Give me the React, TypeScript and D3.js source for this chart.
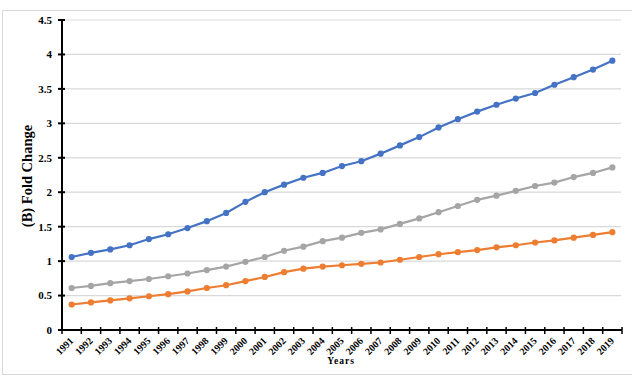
import React from "react";
import * as d3 from "d3";

const years: string[] = [
  "1991","1992","1993","1994","1995","1996","1997","1998","1999","2000",
  "2001","2002","2003","2004","2005","2006","2007","2008","2009","2010",
  "2011","2012","2013","2014","2015","2016","2017","2018","2019",
];

const blueSeries: number[] = [
  1.06, 1.12, 1.17, 1.23, 1.32, 1.39, 1.48, 1.58, 1.70, 1.86,
  2.00, 2.11, 2.21, 2.28, 2.38, 2.45, 2.56, 2.68, 2.80, 2.94,
  3.06, 3.17, 3.27, 3.36, 3.44, 3.56, 3.67, 3.78, 3.91,
];

const graySeries: number[] = [
  0.61, 0.64, 0.68, 0.71, 0.74, 0.78, 0.82, 0.87, 0.92, 0.99,
  1.06, 1.15, 1.21, 1.29, 1.34, 1.41, 1.46, 1.54, 1.62, 1.71,
  1.80, 1.89, 1.95, 2.02, 2.09, 2.14, 2.22, 2.28, 2.36,
];

const orangeSeries: number[] = [
  0.37, 0.40, 0.43, 0.46, 0.49, 0.52, 0.56, 0.61, 0.65, 0.71,
  0.77, 0.84, 0.89, 0.92, 0.94, 0.96, 0.98, 1.02, 1.06, 1.10,
  1.13, 1.16, 1.20, 1.23, 1.27, 1.30, 1.34, 1.38, 1.42,
];

const yTicks: number[] = [0, 0.5, 1, 1.5, 2, 2.5, 3, 3.5, 4, 4.5];

const series = [
  { name: "blue", values: blueSeries, color: "#4472C4" },
  { name: "gray", values: graySeries, color: "#A5A5A5" },
  { name: "orange", values: orangeSeries, color: "#ED7D31" },
];

export default function App() {
  const W = 632;
  const H = 377;
  const left = 62;
  const right = 622;
  const top = 20;
  const bottom = 330;

  const x = d3.scaleBand<string>().domain(years).range([left, right]);
  const y = d3.scaleLinear().domain([0, 4.5]).range([bottom, top]);
  const cx = (yr: string) => (x(yr) as number) + x.bandwidth() / 2;

  const line = d3
    .line<number>()
    .x((_, i) => cx(years[i]))
    .y((d) => y(d));

  const serif = "Liberation Serif, Times New Roman, serif";
  const boundaries = years.map((yr) => x(yr) as number).concat([right]);

  return (
    <div style={{ position: "absolute", left: 0, top: 0 }}>
      <svg width={W} height={H} style={{ display: "block", background: "#fff" }}>
        <rect x={2.5} y={10.5} width={640} height={364} fill="#fff" stroke="#D9D9D9" strokeWidth={1} />
        {yTicks.filter((t) => t > 0).map((t) => (
          <line key={"g" + t} x1={left} x2={right - 1} y1={y(t)} y2={y(t)} stroke="#D9D9D9" strokeWidth={1.2} />
        ))}
        {series.map((s) => (
          <g key={s.name}>
            <path d={line(s.values) || ""} fill="none" stroke={s.color} strokeWidth={2.2} />
            {s.values.map((v, i) => (
              <circle key={i} cx={cx(years[i])} cy={y(v)} r={3.1} fill={s.color} />
            ))}
          </g>
        ))}
        {/* y axis */}
        <line x1={left} x2={left} y1={top} y2={bottom} stroke="#000" strokeWidth={2} />
        {yTicks.map((t) => (
          <g key={"yt" + t}>
            <line x1={left - 4} x2={left + 3} y1={y(t)} y2={y(t)} stroke="#000" strokeWidth={2} />
            <text
              x={52}
              y={y(t)}
              dy="0.35em"
              textAnchor="end"
              fontFamily={serif}
              fontWeight="bold"
              fontSize={11}
              fill="#000"
            >
              {t}
            </text>
          </g>
        ))}
        {/* x axis */}
        <line x1={left} x2={right} y1={bottom} y2={bottom} stroke="#000" strokeWidth={2} />
        {boundaries.map((b, i) => (
          <line key={"xt" + i} x1={b} x2={b} y1={bottom - 3} y2={bottom + 4} stroke="#000" strokeWidth={1.5} />
        ))}
        {years.map((yr) => (
          <text
            key={"xl" + yr}
            transform={`translate(${cx(yr)},${bottom + 9}) rotate(-45)`}
            textAnchor="end"
            dy="0.35em"
            fontFamily={serif}
            fontWeight="bold"
            fontSize={10}
            fill="#000"
          >
            {yr}
          </text>
        ))}
        <text
          x={341}
          y={364}
          textAnchor="middle"
          fontFamily={serif}
          fontWeight="bold"
          fontSize={9.5}
          letterSpacing={1}
          fill="#000"
        >
          Years
        </text>
        <text
          transform={`translate(32,176) rotate(-90)`}
          textAnchor="middle"
          fontFamily={serif}
          fontWeight="bold"
          fontSize={14.5}
          fill="#000"
        >
          (B) Fold Change
        </text>
      </svg>
    </div>
  );
}
